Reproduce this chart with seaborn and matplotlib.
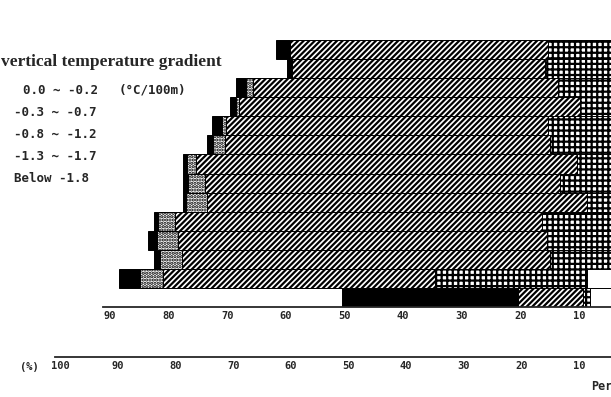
import numpy as np
import matplotlib
matplotlib.use('Agg')
from matplotlib import pyplot as plt
import seaborn as sns


# one entry per bar row, top to bottom (percent of occurrence)
ROWS = ['R1', 'R2', 'R3', 'R4', 'R5', 'R6', 'R7',
        'R8', 'R9', 'R10', 'R11', 'R12', 'R13', 'R14']
BELOW_18 = [2.4, 0.8, 1.7, 1.0, 1.7, 1.0, 0.7, 0.8, 0.5, 0.7, 1.5, 1.0, 3.6, 30.0]
G13_17 = [0.0, 0.0, 1.2, 0.5, 0.7, 2.2, 1.5, 2.9, 3.6, 2.9, 3.6, 3.8, 3.9, 0.0]
G08_12 = [44.0, 43.2, 52.0, 58.2, 54.9, 55.4, 65.1, 60.6, 64.9, 62.6, 62.9, 62.8, 46.4, 11.1]
G03_07 = [10.8, 11.3, 9.1, 5.3, 10.8, 10.4, 5.8, 8.7, 4.1, 11.8, 11.0, 10.4, 26.0, 1.2]
G00_02 = [4.5, 4.5, 4.5, 4.5, 4.5, 4.5, 4.5, 4.5, 4.5, 4.5, 4.5, 4.5, 8.6, 8.1]

LEGEND_LABELS = ['0.0 ~ -0.2', '-0.3 ~ -0.7', '-0.8 ~ -1.2', '-1.3 ~ -1.7', 'Below -1.8']
TOP_TICKS = [90, 80, 70, 60, 50, 40, 30, 20, 10]
BOTTOM_TICKS = [100, 90, 80, 70, 60, 50, 40, 30, 20, 10]


def plot_chart(fig_name):
    sns.set_style('white')
    plt.rcParams['hatch.linewidth'] = 1.6
    plt.rcParams['font.family'] = ['DejaVu Sans Mono', 'DejaVu Sans']

    W, H = 611, 397
    fig = plt.figure(figsize=(W / 100, H / 100), dpi=100)
    ax = fig.add_axes([103 / W, 1 - 307 / H, 1 - 103 / W, (307 - 40) / H])

    # stacked from the right (0 %) towards the left
    segs = [np.array(G00_02), np.array(G03_07), np.array(G08_12),
            np.array(G13_17), np.array(BELOW_18)]
    cums = np.cumsum(segs, axis=0)
    styles = [('white', ''), ('white', '+++'), ('white', '//////'),
              ('white', '.....'), ('black', '')]
    for k in range(len(segs) - 1, -1, -1):
        fc, hatch = styles[k]
        n0 = len(ax.patches)
        sns.barplot(x=list(cums[k]), y=ROWS, order=ROWS, orient='h', color=fc,
                    saturation=1, width=1.0, edgecolor='black', linewidth=0.7, ax=ax)
        for p in ax.patches[n0:]:
            p.set_hatch(hatch)

    ax.set_xlim(91.2, 4.5)
    ax.set_ylim(len(ROWS) - 0.5, -0.5)
    ax.set_yticks([])
    ax.set_xlabel('')
    ax.set_ylabel('')
    for s in ['top', 'right', 'left']:
        ax.spines[s].set_visible(False)
    ax.spines['bottom'].set_linewidth(1.3)
    ax.set_xticks(TOP_TICKS)
    ax.set_xticklabels([str(t) for t in TOP_TICKS], fontsize=7.5, fontweight='bold')
    ax.tick_params(axis='x', direction='in', length=4, width=1.2, pad=3)

    # second percent scale underneath
    ax2 = fig.add_axes([55 / W, 1 - 357 / H, 1 - 55 / W, 0.001])
    ax2.set_xlim(100.9, 4.5)
    ax2.set_yticks([])
    for s in ['top', 'right', 'left']:
        ax2.spines[s].set_visible(False)
    ax2.spines['bottom'].set_linewidth(1.3)
    ax2.set_xticks(BOTTOM_TICKS)
    ax2.set_xticklabels([str(t) for t in BOTTOM_TICKS], fontsize=7.5, fontweight='bold')
    ax2.tick_params(axis='x', direction='in', length=4, width=1.2, pad=3)
    fig.text(20 / W, 1 - 367 / H, '(%)', fontsize=7.5, fontweight='bold',
             ha='left', va='center')
    fig.text(591 / W, 1 - 386 / H, 'Per', fontsize=8.5, fontweight='bold',
             ha='left', va='center')

    # legend text block
    fig.text(1 / W, 1 - 62 / H, 'vertical temperature gradient', fontsize=12.5,
             fontweight='bold', family='Liberation Serif', ha='left', va='center')
    ys = [90, 112, 134, 156, 178]
    xs = [23, 14, 14, 14, 14]
    for i, lab in enumerate(LEGEND_LABELS):
        fig.text(xs[i] / W, 1 - ys[i] / H, lab, fontsize=9, fontweight='bold',
                 ha='left', va='center')
    fig.text(119 / W, 1 - ys[0] / H, '(\u00b0C/100m)', fontsize=9,
             fontweight='bold', ha='left', va='center')

    fig.savefig(fig_name, dpi=100)


if __name__ == '__main__':
    plot_chart('out.png')
